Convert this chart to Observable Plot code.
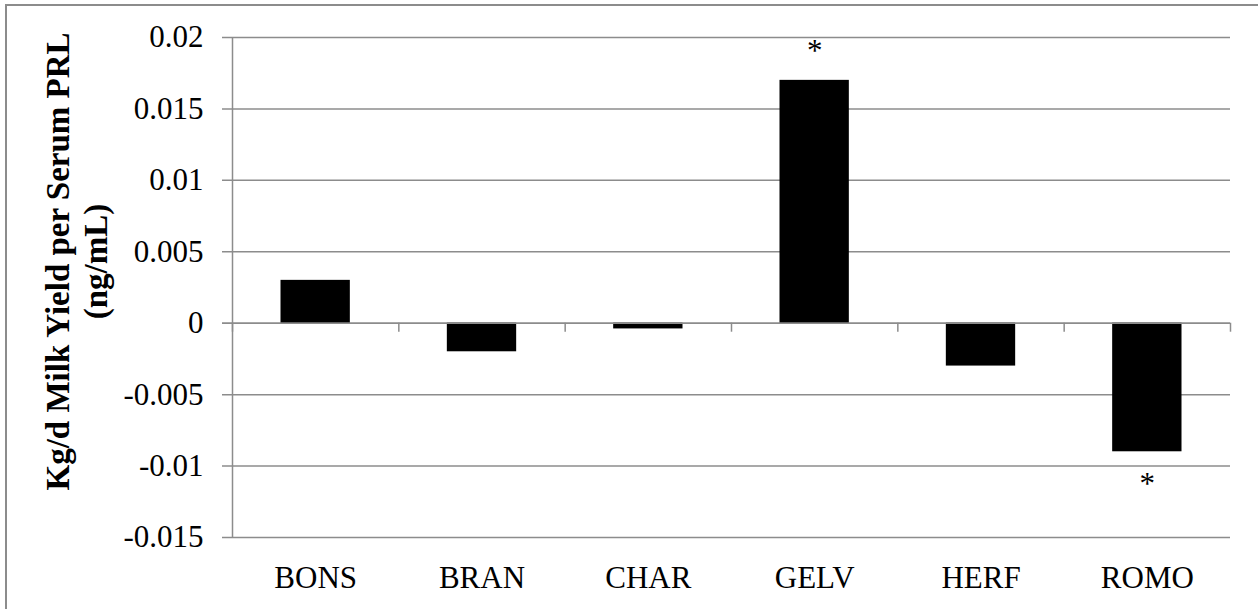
<!DOCTYPE html>
<html><head><meta charset="utf-8">
<script src="https://cdn.jsdelivr.net/npm/d3@7"></script>
<script src="https://cdn.jsdelivr.net/npm/@observablehq/plot@0.6"></script>
<style>
html,body{margin:0;padding:0;background:#fff;overflow:hidden;}
#wrap{position:relative;width:1258px;height:609px;overflow:hidden;}
#border{position:absolute;left:5px;top:4px;width:1300px;height:700px;border:2px solid #8c8c8c;box-sizing:border-box;pointer-events:none}
</style></head><body>
<div id="wrap"><div id="chart"></div><div id="border"></div></div>
<script>
const categories = ["BONS", "BRAN", "CHAR", "GELV", "HERF", "ROMO"];
const values = [0.003, -0.002, -0.0004, 0.017, -0.003, -0.009];
const significant = [false, false, false, true, false, true];
const yTicks = [-0.015, -0.01, -0.005, 0, 0.005, 0.01, 0.015, 0.02];
const yTickLabels = ["-0.015", "-0.01", "-0.005", "0", "0.005", "0.01", "0.015", "0.02"];
const yTitle = "Kg/d Milk Yield per Serum PRL\n(ng/mL)";

const data = categories.map((c, i) => ({category: c, index: i, value: values[i], sig: significant[i]}));
const boundaries = [0, ...categories.map((c, i) => i + 1)];
const gray = "#8c8c8c";

const chart = Plot.plot({
  width: 1258,
  height: 609,
  marginLeft: 232,
  marginRight: 28,
  marginTop: 37,
  marginBottom: 72,
  style: {fontFamily: "'Liberation Serif', 'Times New Roman', serif", background: "white", color: "black"},
  x: {type: "linear", domain: [0, categories.length]},
  y: {domain: [-0.015, 0.02]},
  marks: [
    Plot.ruleY(yTicks, {stroke: gray, strokeWidth: 1.5, insetLeft: -10}),
    Plot.rectY(data, {x1: "index", x2: d => d.index + 1, y1: 0, y2: "value", fill: "black", insetLeft: 48.5, insetRight: 48.5}),
    Plot.ruleY([0], {stroke: gray, strokeWidth: 1.5, insetLeft: -10}),
    Plot.ruleX(boundaries, {y1: 0, y2: 0, insetBottom: -9, stroke: gray, strokeWidth: 1.5}),
    Plot.ruleX([0], {stroke: gray, strokeWidth: 1.5}),
    Plot.text(data.filter(d => d.sig && d.value > 0), {x: d => d.index + 0.5, y: "value", text: () => "*", fontSize: 31, lineAnchor: "middle", dy: -29}),
    Plot.text(data.filter(d => d.sig && d.value < 0), {x: d => d.index + 0.5, y: "value", text: () => "*", fontSize: 31, lineAnchor: "middle", dy: 32}),
    Plot.axisY({ticks: yTicks, tickFormat: d => yTickLabels[yTicks.indexOf(d)], tickSize: 0, tickPadding: 29, fontSize: 31, label: null}),
    Plot.axisX({ticks: categories.map((c, i) => i + 0.5), tickFormat: t => categories[Math.floor(t)], tickSize: 0, tickPadding: 28, fontSize: 31, label: null}),
    Plot.text([yTitle], {frameAnchor: "left", textAnchor: "middle", rotate: -90, fontSize: 33, fontWeight: "bold", lineHeight: 1.15, dx: -157, dy: -26})
  ]
});
document.getElementById("chart").appendChild(chart);
</script>
</body></html>
